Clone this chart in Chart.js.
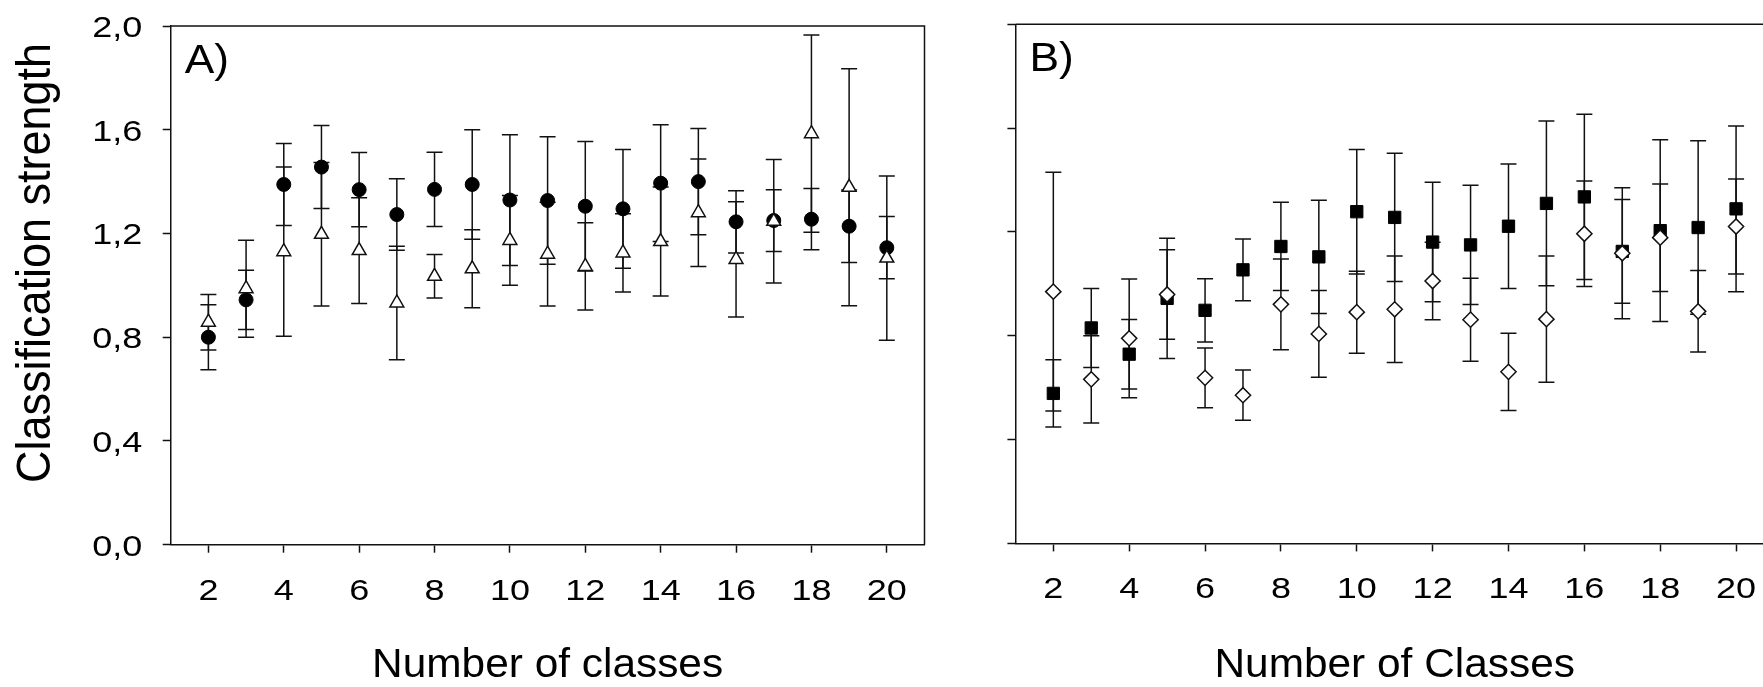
<!DOCTYPE html>
<html>
<head>
<meta charset="utf-8">
<script src="https://cdn.jsdelivr.net/npm/chart.js@4.4.1/dist/chart.umd.min.js"></script>
<style>
    html, body { margin: 0; padding: 0; background: #fff; overflow: hidden; }
    #wrap { position: relative; width: 1763px; height: 687px; overflow: hidden; }
    #chartA { position: absolute; left: 0; top: 0; }
    #chartB { position: absolute; left: 940px; top: 0; }
</style>
</head>
<body>
<div id="wrap">
    <canvas id="chartA" width="940" height="687"></canvas>
    <canvas id="chartB" width="900" height="687"></canvas>
</div>
<script>
const classes = [2, 3, 4, 5, 6, 7, 8, 9, 10, 11, 12, 13, 14, 15, 16, 17, 18, 19, 20];
const xTicks = [2, 4, 6, 8, 10, 12, 14, 16, 18, 20];
const yTicks = [0, 0.4, 0.8, 1.2, 1.6, 2.0];
const yTickLabels = ['0,0', '0,4', '0,8', '1,2', '1,6', '2,0'];

// panel A
const circleMean = [0.80, 0.944, 1.389, 1.456, 1.369, 1.273, 1.37, 1.389, 1.329, 1.327, 1.305, 1.295, 1.394, 1.40, 1.245, 1.25, 1.255, 1.228, 1.145];
const circleErr = [0.125, 0.114, 0.158, 0.16, 0.143, 0.138, 0.143, 0.211, 0.252, 0.246, 0.25, 0.229, 0.225, 0.205, 0.12, 0.119, 0.118, 0.14, 0.12];
const triangleMean = [0.858, 0.987, 1.13, 1.197, 1.134, 0.932, 1.035, 1.064, 1.173, 1.12, 1.073, 1.125, 1.169, 1.28, 1.10, 1.247, 1.585, 1.378, 1.105];
const triangleErr = [0.107, 0.187, 0.326, 0.277, 0.204, 0.219, 0.084, 0.15, 0.173, 0.2, 0.168, 0.151, 0.21, 0.207, 0.222, 0.238, 0.38, 0.457, 0.317];

// panel B
const squareMean = [0.578, 0.83, 0.729, 0.944, 0.898, 1.054, 1.144, 1.104, 1.278, 1.256, 1.161, 1.15, 1.222, 1.31, 1.335, 1.125, 1.205, 1.217, 1.289];
const squareErr = [0.13, 0.152, 0.134, 0.232, 0.122, 0.119, 0.17, 0.218, 0.24, 0.247, 0.23, 0.23, 0.24, 0.317, 0.318, 0.2, 0.35, 0.334, 0.319];
const diamondMean = [0.97, 0.632, 0.79, 0.959, 0.638, 0.571, 0.921, 0.807, 0.891, 0.902, 1.011, 0.862, 0.661, 0.864, 1.193, 1.118, 1.178, 0.894, 1.221];
const diamondErr = [0.46, 0.168, 0.229, 0.172, 0.115, 0.097, 0.175, 0.167, 0.158, 0.205, 0.149, 0.16, 0.149, 0.243, 0.203, 0.252, 0.207, 0.157, 0.183];

const FONT = '"Liberation Sans", Arial, sans-serif';
const INK = '#111';

function points(means) {
    return classes.map((c, i) => ({ x: c, y: means[i] }));
}

function stretchText(ctx, text, x, y, size, sx, align, rot) {
    ctx.save();
    ctx.translate(x, y);
    ctx.scale(sx, 1);
    if (rot) ctx.rotate(rot);
    ctx.font = size + 'px ' + FONT;
    ctx.fillStyle = '#000';
    ctx.textAlign = align;
    ctx.textBaseline = 'alphabetic';
    ctx.fillText(text, 0, 0);
    ctx.restore();
}

// vertical error bars with caps, drawn under the markers
const errorBars = {
    id: 'errorBars',
    beforeDatasetsDraw(chart) {
        const ctx = chart.ctx;
        const xs = chart.scales.x, ys = chart.scales.y;
        ctx.save();
        ctx.strokeStyle = INK;
        ctx.lineWidth = 1.5;
        chart.data.datasets.forEach(ds => {
            ds.data.forEach((p, i) => {
                const px = xs.getPixelForValue(p.x);
                const top = ys.getPixelForValue(p.y + ds.errors[i]);
                const bot = ys.getPixelForValue(p.y - ds.errors[i]);
                ctx.beginPath();
                ctx.moveTo(px, top); ctx.lineTo(px, bot);
                ctx.moveTo(px - 8, top); ctx.lineTo(px + 8, top);
                ctx.moveTo(px - 8, bot); ctx.lineTo(px + 8, bot);
                ctx.stroke();
            });
        });
        ctx.restore();
    }
};

// frame, tick labels and titles
const decorations = {
    id: 'decorations',
    afterDraw(chart, args, opts) {
        const ctx = chart.ctx;
        const a = chart.chartArea;
        const xs = chart.scales.x, ys = chart.scales.y;
        ctx.save();
        ctx.strokeStyle = INK;
        ctx.lineWidth = 1.5;
        ctx.beginPath();
        ctx.moveTo(a.left, a.top); ctx.lineTo(a.right, a.top); ctx.lineTo(a.right, a.bottom);
        ctx.stroke();
        ctx.restore();

        xTicks.forEach(v => {
            stretchText(ctx, String(v), xs.getPixelForValue(v), a.bottom + 55, 30, 1.2, 'center');
        });
        if (opts.yLabels) {
            yTicks.forEach((v, i) => {
                stretchText(ctx, yTickLabels[i], a.left - 28.5, ys.getPixelForValue(v) + 10.8, 30, 1.2, 'right');
            });
        }
        if (opts.yTitle) {
            stretchText(ctx, opts.yTitle, 50, 263, 45, 1.08, 'center', -Math.PI / 2);
        }
        stretchText(ctx, opts.letter, a.left + 14, a.top + 47, 41, 1.08, 'left');
        stretchText(ctx, opts.xTitle, (a.left + a.right) / 2, 677, 40, 1.06, 'center');
    }
};

function makeChart(id, datasets, padding, deco) {
    return new Chart(document.getElementById(id), {
        type: 'scatter',
        data: { datasets: datasets },
        options: {
            responsive: false,
            animation: false,
            devicePixelRatio: 1,
            layout: { padding: padding, autoPadding: false },
            plugins: {
                legend: { display: false },
                tooltip: { enabled: false },
                decorations: deco
            },
            scales: {
                x: {
                    type: 'linear',
                    min: 1,
                    max: 21,
                    afterBuildTicks: s => { s.ticks = xTicks.map(v => ({ value: v })); },
                    afterFit: s => { s.height = 8; },
                    ticks: { display: false },
                    grid: { drawOnChartArea: false, drawTicks: true, tickLength: 8, tickColor: INK, tickWidth: 1.5 },
                    border: { display: true, color: INK, width: 1.5 }
                },
                y: {
                    min: 0,
                    max: 2,
                    afterBuildTicks: s => { s.ticks = yTicks.map(v => ({ value: v })); },
                    afterFit: s => { s.width = 8; },
                    ticks: { display: false },
                    grid: { drawOnChartArea: false, drawTicks: true, tickLength: 8, tickColor: INK, tickWidth: 1.5 },
                    border: { display: true, color: INK, width: 1.5 }
                }
            }
        },
        plugins: [errorBars, decorations]
    });
}

makeChart('chartA', [
    {
        label: 'triangles',
        data: points(triangleMean),
        errors: triangleErr,
        order: 0,
        pointStyle: 'triangle',
        pointRadius: 8,
        backgroundColor: '#fff',
        borderColor: INK,
        borderWidth: 1.5
    },
    {
        label: 'circles',
        data: points(circleMean),
        errors: circleErr,
        order: 1,
        pointStyle: 'circle',
        pointRadius: 7,
        backgroundColor: '#000',
        borderColor: '#000',
        borderWidth: 1
    }
], { left: 162.7, right: 15.5, top: 26, bottom: 134.3 },
   { letter: 'A)', xTitle: 'Number of classes', yTitle: 'Classification strength', yLabels: true });

makeChart('chartB', [
    {
        label: 'diamonds',
        data: points(diamondMean),
        errors: diamondErr,
        order: 0,
        pointStyle: 'rectRot',
        pointRadius: 7.6,
        backgroundColor: '#fff',
        borderColor: INK,
        borderWidth: 1.5
    },
    {
        label: 'squares',
        data: points(squareMean),
        errors: squareErr,
        order: 1,
        pointStyle: 'rect',
        pointRadius: 8.7,
        backgroundColor: '#000',
        borderColor: '#000',
        borderWidth: 1
    }
], { left: 67.4, right: 66, top: 24.3, bottom: 135.6 },
   { letter: 'B)', xTitle: 'Number of Classes', yLabels: false });
</script>
</body>
</html>
